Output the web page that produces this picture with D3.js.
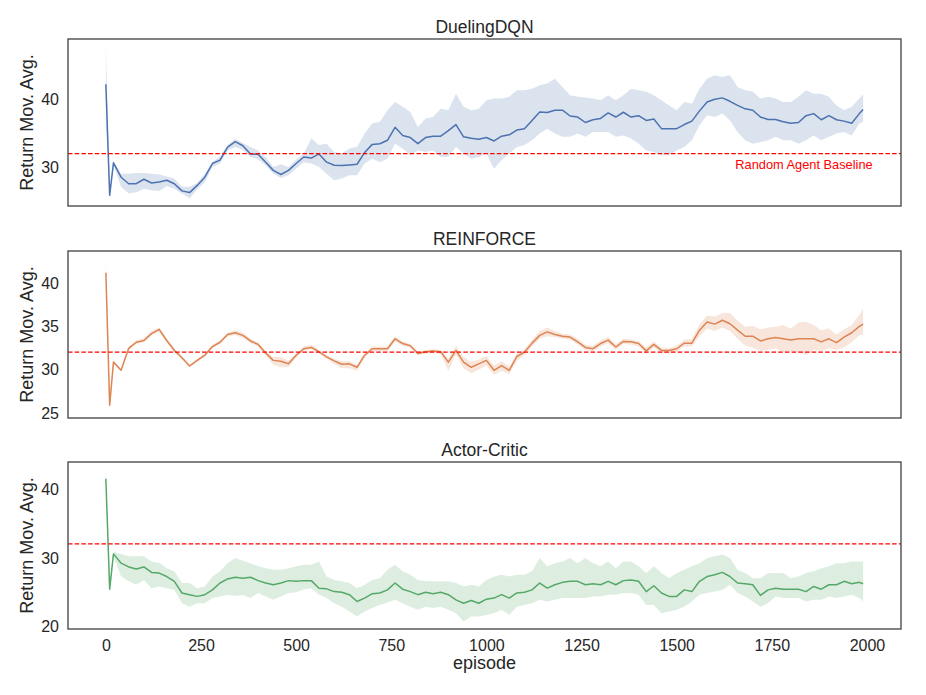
<!DOCTYPE html>
<html>
<head>
<meta charset="utf-8">
<script src="https://cdn.jsdelivr.net/npm/d3@7"></script>
<style>
  body { margin: 0; background: #fff; }
  text { font-family: Arial, "Liberation Sans", sans-serif; }
</style>
</head>
<body>
<div id="chart"></div>
<script>
// x positions of the moving-average samples
const episodes = [0, 10].concat(d3.range(20, 2000, 20), [1990]);

const titles = ['DuelingDQN', 'REINFORCE', 'Actor-Critic'];
const colors = ['#4c72b0', '#dd8452', '#55a868'];
const baseline = 32.05;
const baselineLabel = 'Random Agent Baseline';
const xTicks = [0, 250, 500, 750, 1000, 1250, 1500, 1750, 2000];
const dqnTicks = [30, 40];
const reinforceTicks = [25, 30, 35, 40];
const acTicks = [20, 30, 40];

const dqnMean = [
  42.2, 25.95, 30.7, 28.6, 27.65, 27.65, 28.3, 27.75, 27.9, 28.15,
  27.65, 26.6, 26.35, 27.4, 28.6, 30.6, 31.1, 33.0, 33.8, 33.2,
  32.0, 31.95, 30.8, 29.6, 29.0, 29.6, 30.6, 31.55, 31.4, 32.0,
  30.8, 30.35, 30.3, 30.4, 30.5, 32.2, 33.4, 33.5, 34.0, 35.9,
  34.7, 34.4, 33.5, 34.4, 34.6, 34.6, 35.4, 36.3, 34.5, 34.3,
  34.15, 34.4, 33.9, 34.6, 34.8, 35.5, 35.7, 36.9, 38.15, 38.05,
  38.4, 38.4, 37.55, 37.4, 36.6, 37.0, 37.2, 38.0, 37.4, 38.1,
  37.4, 37.6, 36.9, 37.1, 35.7, 35.7, 35.7, 36.3, 36.8, 38.3,
  39.6, 40.0, 40.2, 39.7, 39.1, 38.6, 38.4, 37.4, 37.05, 37.05,
  36.7, 36.5, 36.6, 37.6, 37.9, 37.0, 37.6, 37.0, 36.8, 36.5,
  37.9, 38.5
];
const dqnLow = [
  37, 25.6, 30.4, 27.2, 26.2, 26.4, 26.9, 26.7, 26.6, 27.3,
  26.9, 26.2, 25.5, 26.8, 27.9, 30.1, 30.6, 32.5, 33.0, 32.6,
  31.55, 31.2, 30.35, 29.1, 28.5, 28.9, 29.85, 30.8, 30.6, 30.1,
  29.1, 28.15, 28.4, 28.9, 28.9, 30.6, 31.3, 30.8, 31.3, 33.5,
  32.8, 31.8, 32.5, 32.3, 32.5, 31.55, 31.55, 33.0, 32.05, 31.3,
  31.55, 32.05, 29.85, 31.1, 32.05, 33.0, 33.3, 34.0, 35.0, 35.7,
  35.0, 34.5, 34.5, 35.0, 34.5, 35.2, 35.2, 35.2, 34.5, 34.7,
  34.25, 33.5, 32.5, 32.3, 31.8, 31.8, 32.5, 33.0, 34.0, 36.2,
  37.65, 37.4, 37.9, 36.9, 35.2, 34.0, 33.5, 33.75, 34.0, 34.5,
  34.0, 34.0, 33.5, 34.0, 34.7, 34.0, 34.5, 35.0, 35.2, 34.7,
  36.45, 36.7
];
const dqnHigh = [
  47.7, 26.4, 31.0, 29.1, 29.1, 29.2, 29.2, 29.1, 29.0, 28.7,
  28.4, 27.2, 27.2, 27.75, 29.1, 30.8, 31.65, 33.3, 34.2, 33.6,
  33.0, 32.5, 31.55, 30.1, 30.5, 30.1, 31.2, 32.05, 34.25, 33.3,
  33.5, 32.3, 32.05, 32.8, 33.0, 35.0, 36.45, 36.7, 38.4, 39.6,
  38.9, 38.15, 35.95, 37.2, 37.4, 38.6, 38.4, 40.8, 38.9, 38.4,
  38.6, 39.85, 40.1, 40.1, 40.35, 41.3, 41.3, 41.55, 42.05, 42.3,
  43.0, 41.8, 40.6, 40.35, 40.25, 40.1, 39.85, 40.6, 39.85, 40.6,
  41.55, 41.3, 41.1, 40.6, 39.85, 39.1, 38.4, 39.6, 39.35, 41.55,
  43.0, 43.5, 43.25, 43.5, 41.8, 41.3, 41.1, 40.1, 40.35, 40.1,
  39.6, 39.6, 40.35, 41.3, 40.8, 40.8, 40.35, 39.1, 38.4, 38.9,
  40.1, 40.7
];

const reinforceMean = [
  41.25, 25.9, 30.9, 29.95, 32.5, 33.2, 33.4, 34.2, 34.7, 33.4,
  32.25, 31.4, 30.45, 31.1, 31.7, 32.7, 33.2, 34.1, 34.3, 34.0,
  33.35, 32.95, 31.95, 31.1, 31.0, 30.7, 31.7, 32.45, 32.6, 32.1,
  31.5, 31.05, 30.65, 30.7, 30.3, 31.7, 32.45, 32.45, 32.45, 33.6,
  33.05, 32.8, 31.9, 32.1, 32.2, 32.1, 30.9, 32.25, 30.9, 30.3,
  30.7, 31.1, 29.95, 30.5, 29.95, 31.55, 32.05, 33.1, 34.0, 34.4,
  34.1, 33.9, 33.8, 33.25, 32.6, 32.45, 33.05, 33.45, 32.65, 33.3,
  33.25, 33.05, 32.2, 32.95, 32.25, 32.25, 32.45, 33.1, 33.1, 34.6,
  35.55, 35.3, 35.75, 35.35, 34.6, 33.9, 33.9, 33.35, 33.6, 33.75,
  33.6, 33.45, 33.6, 33.6, 33.6, 33.25, 33.6, 33.15, 33.8, 34.3,
  35.05, 35.3
];
const reinforceLow = [
  40.3, 25.3, 30.7, 29.8, 32.3, 33.0, 33.2, 34.0, 34.4, 33.2,
  32.0, 31.2, 30.3, 30.9, 31.5, 32.5, 33.0, 33.9, 34.0, 33.7,
  33.1, 32.7, 31.6, 30.6, 30.3, 30.3, 31.4, 32.2, 32.4, 31.9,
  31.3, 30.7, 30.2, 30.2, 29.9, 31.4, 32.2, 32.2, 32.2, 33.3,
  32.8, 32.6, 31.7, 31.9, 32.0, 31.8, 29.9, 31.8, 30.2, 29.6,
  30.0, 30.5, 29.4, 29.9, 29.5, 31.1, 31.7, 32.7, 33.6, 33.9,
  33.8, 33.6, 33.5, 32.9, 32.3, 32.1, 32.7, 33.1, 32.3, 33.0,
  32.95, 32.75, 31.8, 32.6, 31.9, 31.9, 32.1, 32.7, 32.7, 33.9,
  34.8, 34.5, 34.9, 34.5, 33.6, 32.8, 32.6, 32.2, 32.3, 32.5,
  32.0, 32.2, 32.0, 31.7, 32.3, 32.2, 32.5, 32.3, 32.6, 33.2,
  34.0, 34.1
];
const reinforceHigh = [
  42.9, 26.4, 31.1, 30.1, 32.7, 33.4, 33.7, 34.5, 34.9, 33.6,
  32.5, 31.6, 30.6, 31.3, 31.9, 32.9, 33.4, 34.3, 34.6, 34.3,
  33.6, 33.2, 32.2, 31.5, 31.5, 31.1, 31.9, 32.7, 32.9, 32.3,
  31.7, 31.3, 31.0, 31.0, 30.6, 31.9, 32.7, 32.7, 32.7, 33.9,
  33.3, 33.0, 32.1, 32.3, 32.4, 32.3, 31.3, 32.8, 31.5, 30.9,
  31.2, 31.6, 30.5, 31.0, 30.4, 31.9, 32.4, 33.5, 34.5, 34.9,
  34.5, 34.2, 34.1, 33.6, 32.9, 32.8, 33.4, 33.8, 33.0, 33.6,
  33.55, 33.35, 32.6, 33.3, 32.6, 32.5, 32.8, 33.5, 33.6, 35.3,
  36.3, 36.2, 36.6, 36.6, 35.7, 35.0, 35.1, 34.7, 34.9, 35.0,
  35.2, 34.8, 35.5, 35.6, 35.2, 34.6, 34.8, 34.1, 34.7, 35.2,
  36.4, 37.1
];

const acMean = [
  41.55, 25.45, 30.6, 29.25, 28.7, 28.4, 28.7, 27.9, 27.8, 27.3,
  26.6, 24.9, 24.65, 24.4, 24.65, 25.35, 26.35, 26.95, 27.2, 27.05,
  27.2, 26.7, 26.35, 26.1, 26.35, 26.7, 26.6, 26.7, 26.7, 25.6,
  25.5, 25.1, 25.0, 24.65, 23.65, 24.15, 24.8, 24.9, 25.35, 26.35,
  25.45, 25.1, 24.65, 25.0, 24.8, 25.0, 24.65, 23.9, 23.4, 23.8,
  23.4, 24.0, 24.15, 24.65, 24.15, 24.9, 25.0, 25.35, 26.35, 25.6,
  26.1, 26.45, 26.6, 26.6, 26.1, 26.25, 26.1, 26.6, 26.1, 26.7,
  26.8, 26.6, 25.1, 25.95, 24.9, 24.4, 24.4, 25.35, 25.1, 26.6,
  27.3, 27.55, 27.9, 27.3, 26.35, 26.25, 26.1, 24.55, 25.35, 25.6,
  25.45, 25.45, 25.45, 25.1, 25.85, 25.45, 26.1, 26.1, 26.6, 26.25,
  26.45, 26.25
];
const acLow = [
  40.4, 25.2, 30.2, 27.3, 26.6, 26.1, 26.8, 25.6, 25.85, 25.6,
  25.35, 23.4, 22.9, 23.4, 23.4, 24.15, 24.4, 24.65, 24.5, 24.6,
  24.15, 24.9, 24.4, 23.9, 24.4, 24.9, 25.0, 25.4, 25.6, 24.65,
  24.15, 23.4, 22.9, 22.2, 21.45, 22.2, 22.7, 23.15, 23.5, 23.9,
  23.4, 22.9, 22.45, 22.9, 22.7, 22.9, 22.45, 21.95, 20.75, 21.45,
  21.45, 21.7, 21.95, 22.45, 21.7, 22.9, 23.15, 23.4, 23.9, 23.65,
  23.9, 24.15, 24.15, 24.15, 24.15, 24.4, 24.4, 24.65, 24.65, 24.9,
  24.9, 24.65, 23.15, 23.15, 21.95, 22.2, 22.45, 22.9, 23.65, 24.65,
  24.9, 25.1, 25.35, 26.1, 24.9, 24.4, 23.65, 22.9, 23.4, 24.4,
  24.15, 24.15, 24.15, 23.65, 23.9, 23.9, 24.4, 24.15, 24.4, 24.65,
  24.15, 23.65
];
const acHigh = [
  42.9, 25.9, 30.9, 30.6, 30.25, 30.3, 30.25, 29.5, 29.3, 28.5,
  28.05, 26.35, 26.35, 25.6, 25.85, 27.3, 28.05, 29.25, 30.0, 29.6,
  29.25, 28.8, 28.5, 28.3, 28.3, 28.5, 28.8, 29.0, 29.0, 29.5,
  27.3, 26.8, 26.6, 26.35, 25.6, 26.1, 26.8, 27.05, 28.3, 29.0,
  28.05, 27.55, 26.8, 26.6, 26.6, 26.6, 26.6, 26.35, 25.85, 26.1,
  25.85, 26.8, 27.3, 27.55, 27.3, 27.55, 27.55, 28.05, 30.0, 28.8,
  29.25, 29.5, 30.0, 29.25, 30.0, 29.25, 28.8, 29.5, 28.5, 29.5,
  29.5, 28.8, 27.8, 28.8, 27.8, 27.05, 27.8, 28.3, 28.8, 29.25,
  30.0, 30.25, 30.5, 30.0, 28.3, 27.8, 27.05, 27.05, 27.8, 27.8,
  27.8, 27.05, 27.3, 27.8, 28.05, 28.5, 28.8, 29.25, 29.25, 29.5,
  29.5, 29.5
];

const width = 926, height = 695;
const left = 68, right = 901, panelH = 167;
const panelTops = [39, 251, 462];

const panels = [
  { title: titles[0], mean: dqnMean, lo: dqnLow, hi: dqnHigh, color: colors[0], ticks: dqnTicks },
  { title: titles[1], mean: reinforceMean, lo: reinforceLow, hi: reinforceHigh, color: colors[1], ticks: reinforceTicks },
  { title: titles[2], mean: acMean, lo: acLow, hi: acHigh, color: colors[2], ticks: acTicks }
];

const svg = d3.select('#chart')
  .append('svg')
  .attr('width', width)
  .attr('height', height);

// shared x scale, matplotlib-style 5% margins
const xPad = (d3.max(episodes) - d3.min(episodes)) * 0.05;
const x = d3.scaleLinear()
  .domain([d3.min(episodes) - xPad, d3.max(episodes) + xPad])
  .range([left, right]);

panels.forEach((p, i) => {
  const top = panelTops[i];
  const lowest = d3.min(p.lo.concat(p.mean));
  const highest = d3.max(p.hi.concat(p.mean));
  const yPad = (highest - lowest) * 0.05;

  let y = d3.scaleLinear()
    .domain([lowest - yPad, highest + yPad])
    .range([top + panelH, top]);

  let g = svg.append('g');

  let rows = episodes.map((e, j) => ({ e: e, m: p.mean[j], lo: p.lo[j], hi: p.hi[j] }));

  g.append('path')
    .datum(rows)
    .attr('fill', p.color)
    .attr('fill-opacity', 0.2)
    .attr('d', d3.area()
      .x(d => x(d.e))
      .y0(d => y(d.lo))
      .y1(d => y(d.hi)));

  g.append('path')
    .datum(rows)
    .attr('fill', 'none')
    .attr('stroke', p.color)
    .attr('stroke-width', 1.5)
    .attr('stroke-linejoin', 'round')
    .attr('d', d3.line()
      .x(d => x(d.e))
      .y(d => y(d.m)));

  // random agent baseline
  g.append('line')
    .attr('x1', left)
    .attr('x2', right)
    .attr('y1', y(baseline))
    .attr('y2', y(baseline))
    .attr('stroke', '#ff0000')
    .attr('stroke-width', 1.3)
    .attr('stroke-dasharray', '4.5,2.2');

  if (i === 0) {
    g.append('text')
      .attr('x', x(2015))
      .attr('y', y(baseline) + 15)
      .style('text-anchor', 'end')
      .style('font-size', '12.8px')
      .style('fill', '#ff0000')
      .text(baselineLabel);
  }

  let yAxis = g.append('g')
    .attr('transform', `translate(${left}, 0)`)
    .call(d3.axisLeft(y).tickValues(p.ticks).tickSize(0).tickPadding(9));
  yAxis.select('.domain').remove();
  yAxis.selectAll('text')
    .style('font-size', '16px')
    .style('fill', '#262626')
    .style('font-family', 'Arial, "Liberation Sans", sans-serif');

  if (i === panels.length - 1) {
    let xAxis = g.append('g')
      .attr('transform', `translate(0, ${top + panelH})`)
      .call(d3.axisBottom(x).tickValues(xTicks).tickSize(0).tickPadding(11).tickFormat(d3.format('d')));
    xAxis.select('.domain').remove();
    xAxis.selectAll('text')
      .style('font-size', '16px')
      .style('fill', '#262626')
      .style('font-family', 'Arial, "Liberation Sans", sans-serif');

    g.append('text')
      .attr('x', (left + right) / 2)
      .attr('y', 669)
      .style('text-anchor', 'middle')
      .style('font-size', '18px')
      .style('fill', '#262626')
      .text('episode');
  }

  g.append('rect')
    .attr('x', left)
    .attr('y', top)
    .attr('width', right - left)
    .attr('height', panelH)
    .attr('fill', 'none')
    .attr('stroke', '#4d4d4d')
    .attr('stroke-width', 1.4);

  g.append('text')
    .attr('x', (left + right) / 2)
    .attr('y', top - 6)
    .style('text-anchor', 'middle')
    .style('font-size', '17.5px')
    .style('fill', '#262626')
    .text(p.title);

  g.append('text')
    .attr('transform', `translate(33, ${top + panelH / 2}) rotate(-90)`)
    .style('text-anchor', 'middle')
    .style('font-size', '18px')
    .style('fill', '#262626')
    .text('Return Mov. Avg.');
});
</script>
</body>
</html>
